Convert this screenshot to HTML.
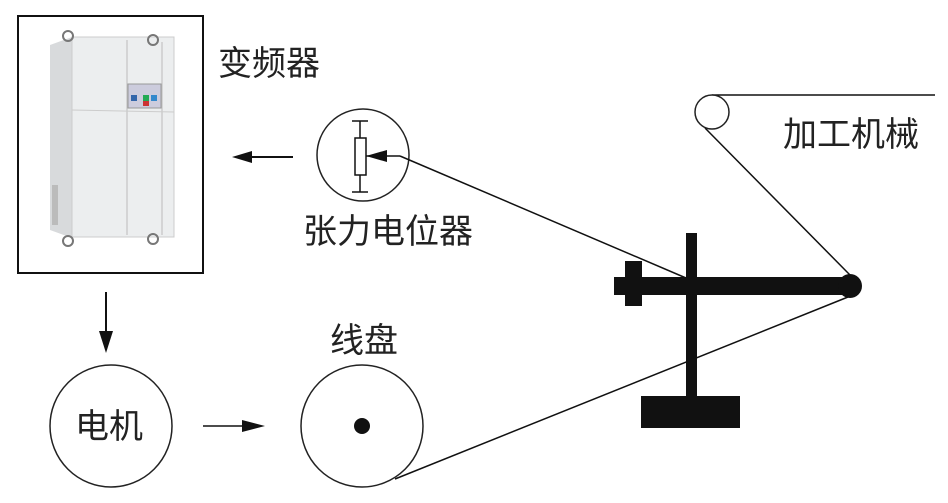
<!DOCTYPE html>
<html><head><meta charset="utf-8"><style>
body{margin:0;background:#fff;width:948px;height:498px;overflow:hidden}
svg text{font-family:"Liberation Sans","Noto Sans CJK SC",sans-serif;fill:#222}
</style></head><body>
<svg width="948" height="498" viewBox="0 0 948 498" xmlns="http://www.w3.org/2000/svg">
<!-- inverter box -->
<rect x="18" y="16" width="185" height="257" fill="#fff" stroke="#111" stroke-width="2"/>
<g>
<polygon points="50,45 72,37 72,238 50,230" fill="#d8dadc"/>
<rect x="72" y="37" width="102" height="200" fill="#eceeef" stroke="#ccc"/>
<line x1="127" y1="40" x2="127" y2="235" stroke="#bbb"/>
<line x1="162" y1="42" x2="162" y2="235" stroke="#bbb"/>
<line x1="72" y1="110" x2="174" y2="112" stroke="#ccc"/>
<rect x="128" y="84" width="33" height="24" fill="#ccd" stroke="#999"/>
<rect x="131" y="95" width="6" height="6" fill="#36a"/><rect x="143" y="95" width="6" height="6" fill="#2a5"/><rect x="143" y="101" width="6" height="5" fill="#c33"/><rect x="151" y="95" width="6" height="6" fill="#38c"/>
<rect x="52" y="185" width="6" height="40" fill="#bbb"/>
<circle cx="68" cy="36" r="5" fill="none" stroke="#777" stroke-width="2"/>
<circle cx="153" cy="40" r="5" fill="none" stroke="#777" stroke-width="2"/>
<circle cx="68" cy="241" r="5" fill="none" stroke="#777" stroke-width="2"/>
<circle cx="153" cy="239" r="5" fill="none" stroke="#777" stroke-width="2"/>
</g>
<text x="218" y="75" font-size="34">变频器</text>
<!-- arrow left -->
<line x1="293" y1="157" x2="245" y2="157" stroke="#111" stroke-width="2"/>
<polygon points="232,157 252,151 252,163" fill="#111"/>
<!-- potentiometer -->
<circle cx="363" cy="155" r="46" fill="#fff" stroke="#222" stroke-width="1.5"/>
<line x1="360" y1="121" x2="360" y2="192" stroke="#111" stroke-width="1.5"/>
<line x1="352" y1="121" x2="368" y2="121" stroke="#111" stroke-width="1.5"/>
<line x1="352" y1="192" x2="368" y2="192" stroke="#111" stroke-width="1.5"/>
<rect x="355" y="138" width="11" height="37" fill="#fff" stroke="#111" stroke-width="1.5"/>
<line x1="366" y1="156" x2="400" y2="156" stroke="#111" stroke-width="1.5"/>
<polygon points="366,156 387,150 387,162" fill="#111"/>
<text x="303" y="243" font-size="34">张力电位器</text>
<!-- lines -->
<line x1="400" y1="156" x2="686" y2="278" stroke="#111" stroke-width="1.5"/>
<line x1="395" y1="479" x2="848" y2="297" stroke="#111" stroke-width="1.5"/>
<line x1="705" y1="128" x2="850" y2="275" stroke="#111" stroke-width="1.5"/>
<line x1="712" y1="95" x2="935" y2="95" stroke="#111" stroke-width="1.5"/>
<circle cx="712" cy="112" r="17" fill="#fff" stroke="#222" stroke-width="1.5"/>
<text x="783" y="146" font-size="34">加工机械</text>
<!-- stand -->
<rect x="686" y="233" width="11" height="170" fill="#111"/>
<rect x="641" y="396" width="99" height="32" fill="#111"/>
<rect x="614" y="277" width="236" height="18" fill="#111"/>
<rect x="625" y="261" width="17" height="45" fill="#111"/>
<circle cx="850" cy="286" r="12" fill="#111"/>
<!-- bottom -->
<line x1="106" y1="292" x2="106" y2="335" stroke="#111" stroke-width="2"/>
<polygon points="106,353 99,331 113,331" fill="#111"/>
<circle cx="111" cy="426" r="61" fill="none" stroke="#222" stroke-width="1.5"/>
<text x="75" y="438" font-size="34">电机</text>
<line x1="203" y1="426" x2="245" y2="426" stroke="#111" stroke-width="1.5"/>
<polygon points="265,426 242,420 242,432" fill="#111"/>
<circle cx="362" cy="426" r="61" fill="none" stroke="#222" stroke-width="1.5"/>
<circle cx="362" cy="426" r="8" fill="#111"/>
<text x="330" y="352" font-size="34">线盘</text>
</svg>
</body></html>
